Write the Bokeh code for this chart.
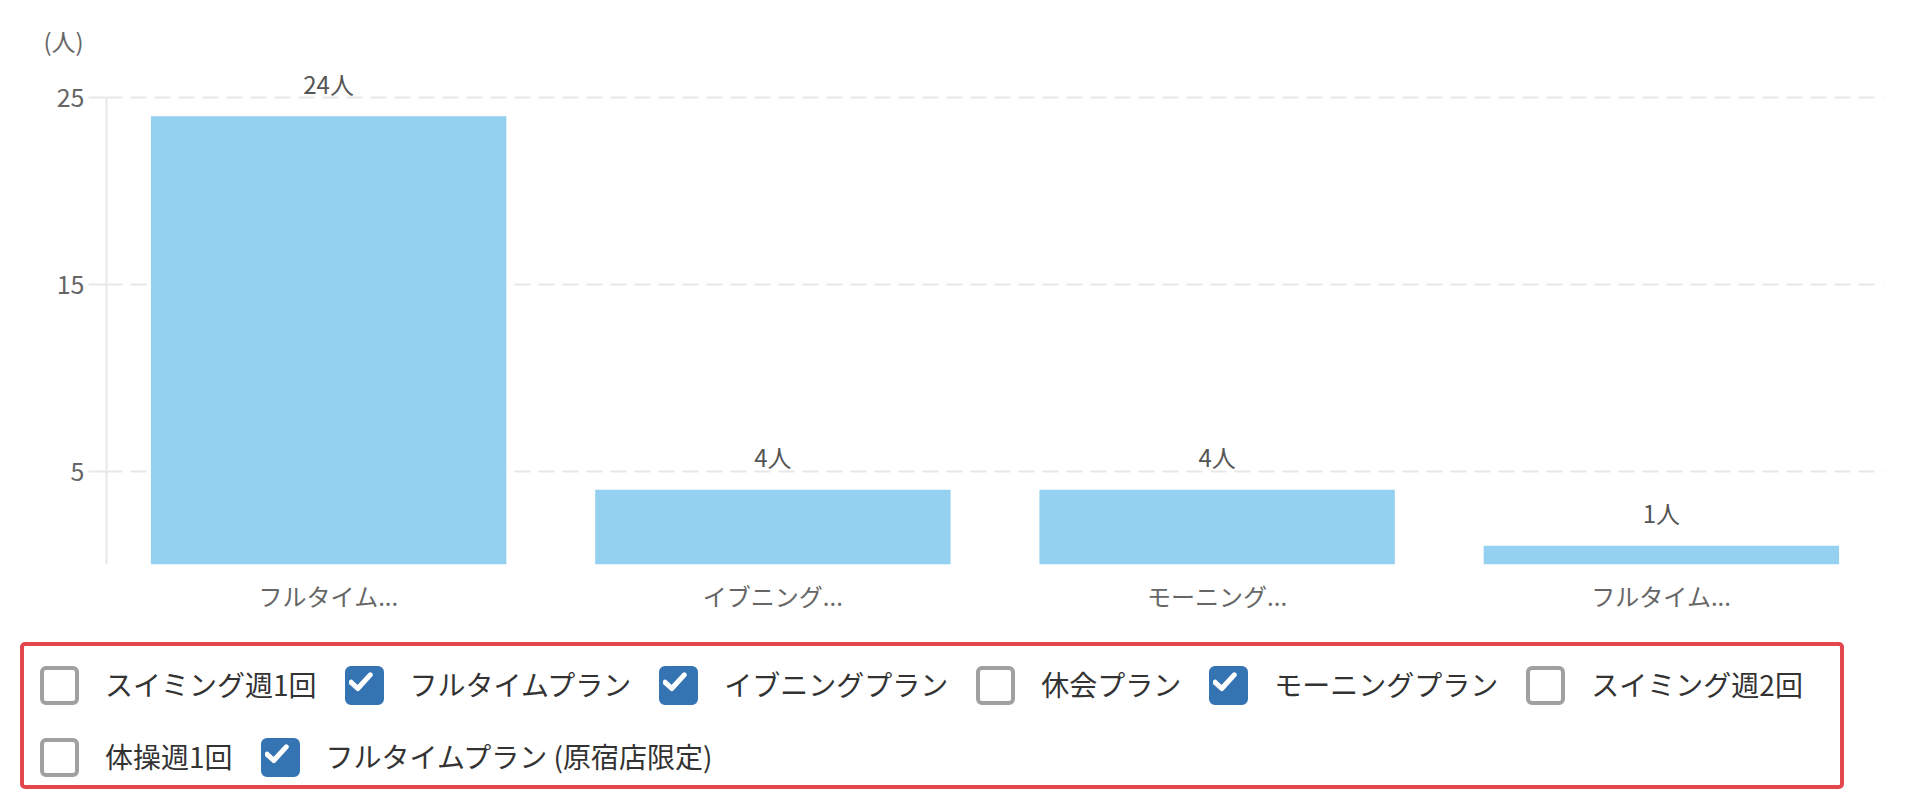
from bokeh.plotting import figure
from bokeh.models import (FactorRange, Range1d, FixedTicker, CheckboxGroup, InlineStyleSheet,
                          ColumnDataSource, LabelSet, CustomJSTickFormatter)
from bokeh.core.properties import value
from bokeh.layouts import column
from bokeh.embed import file_html
from bokeh.resources import INLINE

# ---- data ----
categories = ["フルタイムプラン", "イブニングプラン", "モーニングプラン", "フルタイムプラン (原宿店限定)"]
counts = [24, 4, 4, 1]
count_labels = ["24人", "4人", "4人", "1人"]
y_ticks = [5, 15, 25]
y_max = 25
y_unit = "(人)"
plans = ["スイミング週1回", "フルタイムプラン", "イブニングプラン", "休会プラン",
         "モーニングプラン", "スイミング週2回", "体操週1回", "フルタイムプラン (原宿店限定)"]
selected = [1, 2, 4, 7]

FONT = "Noto Sans CJK JP"

src = ColumnDataSource(data=dict(x=categories, top=counts, label=count_labels))

p = figure(x_range=FactorRange(*categories), y_range=Range1d(0, 26.66),
           width=1908, height=634, output_backend="svg", toolbar_location=None,
           min_border_left=106, min_border_right=25, min_border_top=66, min_border_bottom=70)
p.outline_line_color = None
p.background_fill_color = "white"
p.border_fill_color = "white"

p.title.text = y_unit
p.title.align = "left"
p.title.offset = -63
p.title.standoff = 17
p.title.text_font = FONT
p.title.text_font_size = "24px"
p.title.text_font_style = "normal"
p.title.text_color = "#666666"

p.vbar(x="x", top="top", source=src, width=0.8, fill_color="#94d1f1", line_color=None)
p.add_layout(LabelSet(x="x", y="top", text="label", source=src, text_align="center",
                      text_baseline="middle", y_offset=33, text_font=value(FONT),
                      text_font_size=value("24px"), text_color="#555555"))

# y axis
p.yaxis.ticker = FixedTicker(ticks=y_ticks)
p.yaxis.bounds = (0, y_max)
p.yaxis.axis_line_color = "#e8e8e8"
p.yaxis.axis_line_width = 2
p.yaxis.major_tick_out = 18
p.yaxis.major_tick_in = 0
p.yaxis.major_tick_line_color = "#e8e8e8"
p.yaxis.major_tick_line_width = 2
p.yaxis.minor_tick_line_color = None
p.yaxis.major_label_standoff = 4
p.yaxis.major_label_text_font = FONT
p.yaxis.major_label_text_font_size = "25px"
p.yaxis.major_label_text_color = "#666666"

p.ygrid.ticker = FixedTicker(ticks=y_ticks)
p.ygrid.grid_line_color = "#e8e8e8"
p.ygrid.grid_line_width = 2
p.ygrid.grid_line_dash = "16 8"
p.xgrid.grid_line_color = None

# x axis: long plan names shortened to 5 characters + "..."
p.xaxis.axis_line_color = None
p.xaxis.major_tick_line_color = None
p.xaxis.minor_tick_line_color = None
p.xaxis.major_label_standoff = 7
p.xaxis.major_label_text_font = FONT
p.xaxis.major_label_text_font_size = "24px"
p.xaxis.major_label_text_color = "#666666"
p.xaxis.formatter = CustomJSTickFormatter(
    code="return tick.length > 5 ? tick.slice(0, 5) + '...' : tick;")

check_svg = ("data:image/svg+xml;utf8,<svg xmlns='http://www.w3.org/2000/svg' viewBox='0 0 20 20'>"
             "<path d='M5.2 10.4 L8.6 13.6 L15 6.6' fill='none' stroke='white' stroke-width='2.6' "
             "stroke-linecap='round' stroke-linejoin='round'/></svg>")

css = """
:host { box-sizing: border-box; }
.bk-input-group {
  box-sizing: border-box; width: 100%; height: 100%;
  border: 4px solid #e2474d; border-radius: 5px; background: #fff;
  padding: 20px 0 0 16px;
  display: flex !important; flex-direction: row !important; flex-wrap: wrap !important;
  column-gap: 28px; row-gap: 33px; align-content: flex-start;
}
.bk-input-group > label {
  display: flex; align-items: center; margin: 0 !important; padding: 0;
  height: 39px; font-family: 'Noto Sans CJK JP'; font-size: 28px; color: #333333;
  white-space: nowrap;
}
.bk-input-group > label > span { margin: 0; padding: 0; }
input[type=checkbox] {
  -webkit-appearance: none; appearance: none; box-sizing: border-box;
  width: 39px; height: 39px; margin: 0 26px 0 0; padding: 0;
  border: 4px solid #a0a0a0; border-radius: 6px; background: #ffffff;
}
input[type=checkbox]:checked {
  border-color: #3574b3; background-color: #3574b3;
  background-image: url("CHECK");
  background-origin: border-box; background-size: 39px 39px; background-position: -4px -4px;
  background-repeat: no-repeat;
}
""".replace("CHECK", check_svg)

cb = CheckboxGroup(labels=plans, active=selected, inline=True, width=1824, height=147,
                   margin=(8, 0, 0, 20), stylesheets=[InlineStyleSheet(css=css)])

layout = column(p, cb, spacing=0)
open("out.html", "w").write(file_html(layout, INLINE))
